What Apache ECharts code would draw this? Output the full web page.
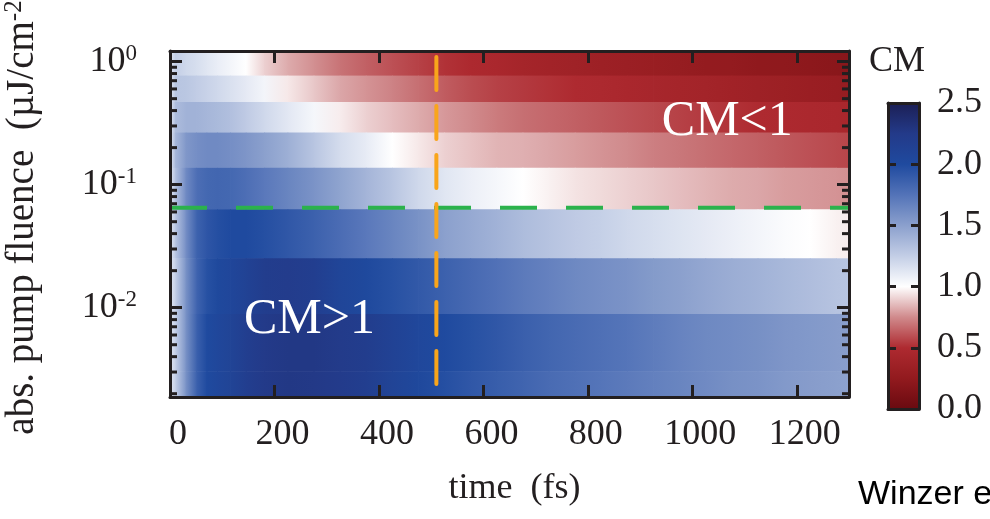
<!DOCTYPE html>
<html><head><meta charset="utf-8">
<script src="https://cdn.jsdelivr.net/npm/echarts@6/dist/echarts.min.js"></script>
<style>html,body{margin:0;padding:0;background:#fff}#c{width:990px;height:519px}</style>
</head><body><div id="c"></div>
<script>
// ---- data ----
const sampleTimes = [0,10,30,50,70,90,115,145,180,225,275,325,375,425,475,525,575,625,675,725,775,825,875,925,975,1025,1075,1125,1175,1225,1275,1300];
const fluenceEdges = [1.22, 0.77, 0.47, 0.265, 0.137, 0.063, 0.0252, 0.0089, 0.00305, 0.00188];
const cmBand1 = [1.12,1.25,1.2,1.17,1.13,1.09,1.05,1.0,0.9,0.82,0.76,0.69,0.64,0.6,0.56,0.52,0.49,0.46,0.42,0.39,0.37,0.35,0.33,0.31,0.29,0.27,0.26,0.24,0.23,0.22,0.2,0.19];
const cmBand2 = [1.12,1.3,1.29,1.26,1.23,1.2,1.16,1.11,1.05,0.95,0.88,0.81,0.77,0.73,0.68,0.63,0.59,0.56,0.54,0.52,0.5,0.48,0.46,0.44,0.42,0.4,0.38,0.36,0.34,0.32,0.3,0.29];
const cmBand3 = [1.12,1.35,1.4,1.4,1.38,1.36,1.33,1.27,1.2,1.12,1.04,0.96,0.9,0.86,0.82,0.78,0.75,0.71,0.68,0.66,0.64,0.62,0.6,0.58,0.56,0.54,0.52,0.5,0.49,0.47,0.46,0.45];
const cmBand4 = [1.12,1.38,1.55,1.6,1.62,1.62,1.6,1.56,1.5,1.42,1.3,1.18,1.1,1.0,0.95,0.9,0.87,0.84,0.83,0.81,0.79,0.77,0.75,0.72,0.7,0.68,0.66,0.64,0.62,0.6,0.58,0.57];
const cmBand5 = [1.12,1.33,1.62,1.78,1.82,1.83,1.82,1.78,1.72,1.65,1.57,1.48,1.39,1.3,1.2,1.13,1.08,1.04,1.0,0.97,0.94,0.92,0.9,0.88,0.86,0.84,0.82,0.81,0.79,0.78,0.77,0.76];
const cmBand6 = [1.12,1.3,1.6,1.85,1.93,1.97,2.0,2.0,1.97,1.92,1.86,1.79,1.72,1.65,1.58,1.5,1.45,1.4,1.35,1.31,1.27,1.24,1.2,1.17,1.14,1.11,1.08,1.05,1.02,1.0,0.97,0.96];
const cmBand7 = [1.12,1.25,1.58,1.84,1.96,2.02,2.06,2.12,2.2,2.22,2.18,2.08,2.02,1.96,1.91,1.86,1.81,1.76,1.71,1.67,1.63,1.6,1.57,1.53,1.5,1.46,1.43,1.4,1.37,1.34,1.31,1.3];
const cmBand8 = [1.12,1.25,1.58,1.86,2.0,2.05,2.1,2.18,2.25,2.27,2.27,2.24,2.2,2.12,2.05,2.0,1.96,1.92,1.87,1.83,1.8,1.77,1.74,1.7,1.66,1.63,1.61,1.59,1.56,1.54,1.52,1.51];
const cmBand9 = [1.12,1.25,1.58,1.86,2.0,2.05,2.1,2.18,2.25,2.27,2.26,2.23,2.18,2.1,2.03,1.97,1.92,1.88,1.84,1.8,1.77,1.74,1.71,1.68,1.65,1.62,1.59,1.57,1.54,1.52,1.5,1.49];
const cmBands = [cmBand1, cmBand2, cmBand3, cmBand4, cmBand5, cmBand6, cmBand7, cmBand8, cmBand9];
const thresholdFluence = 0.065;
const markerTime = 510;
const annotTexts = ['CM>1', 'CM<1'];
const annotPoints = [[267, 0.0079], [1067, 0.324]];
const timeTicks = [0, 200, 400, 600, 800, 1000, 1200];
const cmMin = 0, cmMax = 2.5;
const cmColors = ['#6a0a10','#921a1e','#ae2a30','#d08a8c','#ffffff','#c3cee6','#8ba0cd','#5373b8','#1f4a9f','#233a89','#1c1f55'];

// ---- build ----
const INK = '#231f20';
const SERIF = '"Liberation Serif","Times New Roman",serif';
const FS = 36;
const fMax = fluenceEdges[0], fMin = fluenceEdges[fluenceEdges.length - 1];
const tMin = sampleTimes[0], tMax = sampleTimes[sampleTimes.length - 1];
const cmColor = (v) => echarts.color.lerp((v - cmMin) / (cmMax - cmMin), cmColors);

const heatData = [];
cmBands.forEach((row, b) => {
  for (let j = 0; j < sampleTimes.length - 1; j++) {
    heatData.push([sampleTimes[j], sampleTimes[j + 1], fluenceEdges[b], fluenceEdges[b + 1], row[j], row[j + 1]]);
  }
});

const minorTickValues = [];
for (let e = -3; e <= 0; e++) for (let k = 2; k <= 9; k++) {
  const v = k * Math.pow(10, e);
  if (v > fMin && v < fMax) minorTickValues.push([v]);
}

const gradStops = cmColors.map((c, i) => ({ offset: 1 - i / (cmColors.length - 1), color: c })).reverse();

const axisLineStyle = { show: true, onZero: false, lineStyle: { color: INK, width: 3 } };
const tickStyle = (len) => ({ show: true, inside: true, length: len, lineStyle: { color: INK, width: 3 } });
const labelFont = { color: INK, fontFamily: SERIF, fontSize: FS };

const chart = echarts.init(document.getElementById('c'));
chart.setOption({
  animation: false,
  backgroundColor: '#ffffff',
  grid: [
    { left: 170, top: 51, width: 679, height: 346, outerBoundsMode: 'none' },
    { left: 888, top: 103, width: 31, height: 306, outerBoundsMode: 'none' }
  ],
  xAxis: [
    { type: 'value', gridIndex: 0, min: tMin, max: tMax, interval: 200, position: 'bottom', z: 10,
      axisLine: axisLineStyle, axisTick: tickStyle(12), splitLine: { show: false },
      axisLabel: Object.assign({ margin: 20, padding: [0, 0, 0, 16],
        formatter: (v) => (timeTicks.indexOf(v) >= 0 ? String(v) : '') }, labelFont),
      name: 'time  (fs)', nameLocation: 'middle', nameGap: 74,
      nameTextStyle: { color: INK, fontFamily: SERIF, fontSize: FS, padding: [0, 0, 0, 10] } },
    { type: 'value', gridIndex: 0, min: tMin, max: tMax, interval: 200, position: 'top', z: 10,
      axisLine: axisLineStyle, axisTick: tickStyle(12), splitLine: { show: false }, axisLabel: { show: false } },
    { type: 'category', gridIndex: 1, data: ['CM'], position: 'bottom', z: 10,
      axisLine: axisLineStyle, axisTick: { show: false }, axisLabel: { show: false } },
    { type: 'category', gridIndex: 1, data: ['CM'], position: 'top', z: 10,
      axisLine: axisLineStyle, axisTick: { show: false }, axisLabel: { show: false } }
  ],
  yAxis: [
    { type: 'log', logBase: 10, gridIndex: 0, min: fMin, max: fMax, position: 'left', z: 10,
      axisLine: axisLineStyle, axisTick: tickStyle(12), splitLine: { show: false }, minorTick: { show: false },
      axisLabel: {
        margin: 33, showMinLabel: false, showMaxLabel: false,
        formatter: (v) => '{b|10}{s|' + Math.round(Math.log10(v)) + '}',
        rich: {
          b: { color: INK, fontFamily: SERIF, fontSize: FS, lineHeight: 38 },
          s: { color: INK, fontFamily: SERIF, fontSize: 23, verticalAlign: 'top', lineHeight: 38 }
        }
      },
      name: 'abs. pump fluence  (µJ/cm{s|-2})', nameLocation: 'middle', nameGap: 126, nameRotate: 90,
      nameTextStyle: { color: INK, fontFamily: SERIF, fontSize: 39, padding: [0, 0, 0, 26],
        rich: { s: { color: INK, fontFamily: SERIF, fontSize: 25, verticalAlign: 'top', lineHeight: 42 } } } },
    { type: 'log', logBase: 10, gridIndex: 0, min: fMin, max: fMax, position: 'right', z: 10,
      axisLine: axisLineStyle, axisTick: tickStyle(12), splitLine: { show: false }, axisLabel: { show: false } },
    { type: 'value', gridIndex: 1, min: cmMin, max: cmMax, interval: 0.5, position: 'right', z: 10,
      axisLine: axisLineStyle, axisTick: tickStyle(8), splitLine: { show: false },
      axisLabel: Object.assign({ margin: 18, padding: [5, 0, 0, 0], formatter: (v) => v.toFixed(1) }, labelFont) },
    { type: 'value', gridIndex: 1, min: cmMin, max: cmMax, interval: 0.5, position: 'left', z: 10,
      axisLine: axisLineStyle, axisTick: tickStyle(8), splitLine: { show: false }, axisLabel: { show: false } }
  ],
  graphic: [
    { type: 'text', left: 869, top: 44, style: { text: 'CM', font: FS + 'px "Liberation Serif"', fill: INK } },
    { type: 'text', left: 858, top: 478, style: { text: 'Winzer et al.', font: '34px "Liberation Sans"', fill: '#000' } }
  ],
  series: [
    { type: 'custom', xAxisIndex: 0, yAxisIndex: 0, data: heatData, clip: true, silent: true,
      encode: { x: [0, 1], y: [2, 3] },
      renderItem: (params, api) => {
        const p1 = api.coord([api.value(0), api.value(2)]);
        const p2 = api.coord([api.value(1), api.value(3)]);
        const fill = new echarts.graphic.LinearGradient(0, 0, 1, 0, [
          { offset: 0, color: cmColor(api.value(4)) },
          { offset: 1, color: cmColor(api.value(5)) }
        ]);
        return { type: 'rect', shape: { x: p1[0], y: p1[1], width: p2[0] - p1[0] + 0.8, height: p2[1] - p1[1] + 0.6 },
          style: { fill: fill } };
      } },
    { type: 'custom', xAxisIndex: 0, yAxisIndex: 0, data: minorTickValues, silent: true, z: 11,
      encode: { y: 0 },
      renderItem: (params, api) => {
        const l = api.coord([tMin, api.value(0)]);
        const r = api.coord([tMax, api.value(0)]);
        const st = { stroke: INK, lineWidth: 3 };
        return { type: 'group', children: [
          { type: 'line', shape: { x1: l[0], y1: l[1], x2: l[0] + 7, y2: l[1] }, style: st },
          { type: 'line', shape: { x1: r[0], y1: r[1], x2: r[0] - 7, y2: r[1] }, style: st }
        ] };
      } },
    { type: 'line', xAxisIndex: 0, yAxisIndex: 0, silent: true, symbol: 'none', z: 5,
      data: [[tMin, thresholdFluence], [tMax, thresholdFluence]],
      lineStyle: { color: '#2bb24c', width: 4, type: [37, 29], cap: 'butt' } },
    { type: 'line', xAxisIndex: 0, yAxisIndex: 0, silent: true, symbol: 'none', z: 5,
      data: [[markerTime, fMax], [markerTime, fMin]],
      lineStyle: { color: '#f9a51b', width: 4, type: [33, 16], dashOffset: -6, cap: 'round' } },
    { type: 'custom', xAxisIndex: 0, yAxisIndex: 0, silent: true, z: 6,
      data: annotPoints.map((p, i) => [p[0], p[1], i]),
      encode: { x: 0, y: 1 },
      renderItem: (params, api) => {
        const p = api.coord([api.value(0), api.value(1)]);
        return { type: 'text', x: p[0], y: p[1],
          style: { text: annotTexts[api.value(2)], fill: '#ffffff', font: '50px "Liberation Serif"',
            align: 'center', verticalAlign: 'middle' } };
      } },
    { type: 'bar', xAxisIndex: 2, yAxisIndex: 2, silent: true, barWidth: '100%', data: [cmMax],
      itemStyle: { color: new echarts.graphic.LinearGradient(0, 0, 0, 1, gradStops) } }
  ]
});
</script>
</body></html>
